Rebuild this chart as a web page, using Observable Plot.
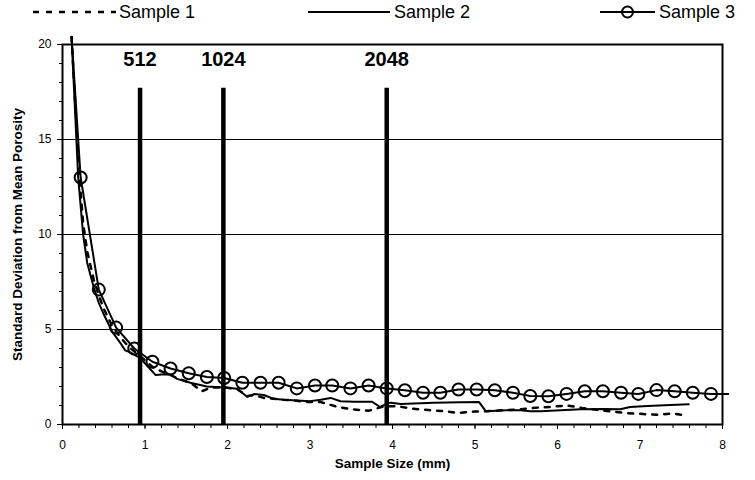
<!DOCTYPE html>
<html><head><meta charset="utf-8">
<script src="https://cdn.jsdelivr.net/npm/d3@7"></script>
<script src="https://cdn.jsdelivr.net/npm/@observablehq/plot@0.6"></script>
<style>
body{margin:0;background:#fff;font-family:"Liberation Sans",Arial,sans-serif;}
#legend{display:block;}
#chart svg{display:block;overflow:visible;}
</style></head><body>
<div id="legend"></div>
<div id="chart"></div>
<script>
// ---- data ----
const seriesNames = ["Sample 1", "Sample 2", "Sample 3"];

const s1x = [0.11,0.20,0.25,0.30,0.38,0.44,0.50,0.60,0.70,0.80,0.94,1.10,1.20,1.31,1.41,1.55,1.69,1.80,1.97,2.12,2.24,2.32,2.44,2.56,2.68,2.84,2.97,3.13,3.33,3.51,3.71,3.89,4.06,4.25,4.43,4.62,4.80,4.99,5.15,5.35,5.55,5.73,5.92,6.11,6.30,6.48,6.66,6.84,7.04,7.21,7.40,7.58];
const s1y = [20.4,13.3,10.6,9.1,7.6,6.8,6.1,5.2,4.6,4.1,3.6,3.0,2.8,2.6,2.4,2.2,1.75,1.95,1.95,1.85,1.5,1.55,1.4,1.35,1.3,1.25,1.18,1.18,0.93,0.8,0.72,0.95,0.96,0.83,0.76,0.7,0.61,0.68,0.7,0.75,0.8,0.88,0.93,1.0,0.87,0.77,0.68,0.6,0.55,0.51,0.58,0.46];

const s2x = [0.11,0.19,0.25,0.30,0.38,0.44,0.50,0.60,0.70,0.76,0.82,0.94,1.13,1.23,1.31,1.39,1.55,1.75,1.97,2.12,2.24,2.32,2.44,2.56,2.68,2.84,3.00,3.13,3.25,3.37,3.53,3.75,3.85,3.93,3.98,4.10,4.50,4.82,5.05,5.13,5.38,5.55,5.67,5.79,5.92,6.04,6.28,6.56,6.76,6.88,7.09,7.37,7.59];
const s2y = [20.4,13.0,10.0,8.5,7.2,6.4,5.8,4.9,4.3,3.9,3.8,3.5,2.6,2.65,2.62,2.4,2.2,2.0,1.95,1.88,1.45,1.6,1.55,1.35,1.3,1.26,1.23,1.3,1.4,1.22,1.2,1.2,0.92,1.1,1.15,1.08,1.15,1.17,1.18,0.7,0.75,0.75,0.7,0.7,0.73,0.75,0.8,0.82,0.8,0.92,0.98,1.02,1.06];

// Sample 3: marked points, plus the unmarked line ends
const s3x = [0.22,0.44,0.65,0.87,1.09,1.31,1.53,1.75,1.96,2.18,2.40,2.62,2.84,3.06,3.27,3.49,3.71,3.93,4.15,4.37,4.58,4.80,5.02,5.24,5.46,5.67,5.89,6.11,6.33,6.55,6.77,6.98,7.20,7.42,7.64,7.86];
const s3y = [13.0,7.1,5.1,4.0,3.3,2.95,2.7,2.5,2.45,2.2,2.2,2.2,1.9,2.05,2.05,1.9,2.05,1.9,1.8,1.67,1.67,1.84,1.84,1.8,1.67,1.5,1.49,1.61,1.75,1.75,1.67,1.61,1.81,1.75,1.67,1.61];
const s3StartX = 0.11, s3StartY = 20.4;
const s3EndX = 8.07, s3EndY = 1.6;

// reference bars (image sizes in pixels)
const barX = [0.94, 1.95, 3.93];
const barLabels = ["512", "1024", "2048"];
const barTop = 17.7;
const barLabelY = 19.2;

// axes
const xTicks = [0,1,2,3,4,5,6,7,8];
const yTicks = [0,5,10,15,20];
const gridVals = [5,10,15];
const xTitle = "Sample Size (mm)";
const yTitle = "Standard Deviation from Mean Porosity";

// ---- build tables ----
const s1 = s1x.map((x,i) => ({x, y: s1y[i]}));
const s2 = s2x.map((x,i) => ({x, y: s2y[i]}));
const s3 = s3x.map((x,i) => ({x, y: s3y[i]}));
const s3line = [{x: s3StartX, y: s3StartY}, ...s3, {x: s3EndX, y: s3EndY}];
const bars = barX.map((x,i) => ({x, label: barLabels[i]}));
const xMinor = d3.range(0, 8.001, 0.2);
const yMinor = d3.range(0, 20.001, 1);

const font = "'Liberation Sans', Arial, sans-serif";

// ---- legend ----
const leg = d3.select("#legend").append("svg").attr("width", 755).attr("height", 30)
  .style("display","block").style("font-family", font);
const legItems = [
  {x1: 33, x2: 116, tx: 119, dash: "6,7", marker: false, w: 2.5},
  {x1: 308, x2: 390, tx: 394, dash: null, marker: false, w: 2},
  {x1: 600, x2: 655, tx: 659, dash: null, marker: true, w: 2}
];
legItems.forEach((d,i) => {
  leg.append("line").attr("x1", d.x1).attr("x2", d.x2).attr("y1", 12).attr("y2", 12)
    .attr("stroke", "#000").attr("stroke-width", d.w).attr("stroke-dasharray", d.dash);
  if (d.marker) leg.append("circle").attr("cx", (d.x1+d.x2)/2).attr("cy", 12).attr("r", 5.5)
    .attr("fill", "none").attr("stroke", "#000").attr("stroke-width", 2);
  leg.append("text").attr("x", d.tx).attr("y", 18).attr("font-size", 18).attr("fill", "#000").text(seriesNames[i]);
});

// ---- chart ----
const chart = Plot.plot({
  width: 755, height: 450,
  marginTop: 14, marginBottom: 56, marginLeft: 62, marginRight: 33,
  x: {domain: [0, 8]},
  y: {domain: [0, 20]},
  style: {fontFamily: font, fontSize: "12px", color: "#000", background: "#fff", overflow: "visible"},
  marks: [
    Plot.gridY(gridVals, {stroke: "#000", strokeOpacity: 1, strokeWidth: 1}),
    Plot.axisY({ticks: yMinor, tickSize: 3, tickFormat: () => "", label: null, strokeWidth: 1}),
    Plot.axisY({ticks: yTicks, tickSize: 5, tickPadding: 6, label: null, fontSize: 12}),
    Plot.axisX({ticks: xMinor, tickSize: 4, tickFormat: () => "", label: null, strokeWidth: 1}),
    Plot.axisX({ticks: xTicks, tickSize: 5, tickPadding: 11, label: null, fontSize: 12}),
    Plot.line(s1, {x: "x", y: "y", stroke: "#000", strokeWidth: 2.5, strokeDasharray: "5,7"}),
    Plot.line(s2, {x: "x", y: "y", stroke: "#000", strokeWidth: 2}),
    Plot.line(s3line, {x: "x", y: "y", stroke: "#000", strokeWidth: 2}),
    Plot.dot(s3, {x: "x", y: "y", r: 6, stroke: "#000", strokeWidth: 2, fill: "none"}),
    Plot.ruleX(bars, {x: "x", y1: 0, y2: barTop, stroke: "#000", strokeWidth: 4.5}),
    Plot.text(bars, {x: "x", y: barLabelY, text: "label", fontWeight: "bold", fontSize: 20, fill: "#000"}),
    Plot.frame({stroke: "#000", strokeWidth: 2}),
    Plot.text([xTitle], {frameAnchor: "bottom", textAnchor: "middle", dy: 43, fontWeight: "bold", fontSize: 13.5, fill: "#000"}),
    Plot.text([yTitle], {frameAnchor: "left", textAnchor: "middle", rotate: -90, dx: -45, fontWeight: "bold", fontSize: 13.5, fill: "#000"})
  ]
});
document.getElementById("chart").appendChild(chart);
</script>
</body></html>
